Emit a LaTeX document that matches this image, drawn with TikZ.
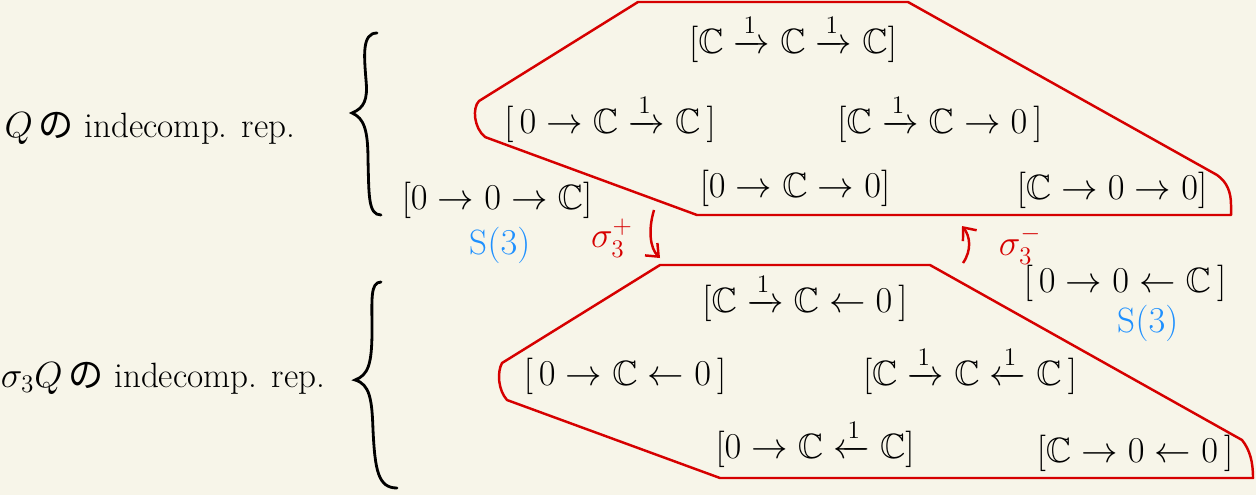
\documentclass[tikz,border=0pt]{standalone}
\usepackage{amsmath}
\usepackage{amssymb}
\usepackage{fontspec}
\newfontfamily\jpfont{Noto Sans CJK JP}
\usepackage{xcolor}
\definecolor{paper}{RGB}{247,245,233}
\definecolor{penred}{RGB}{214,0,0}
\definecolor{penblue}{RGB}{30,144,255}
\usetikzlibrary{arrows.meta}

\newcommand{\Cc}{\mathbb{C}}

\tikzset{
  rep/.style={font=\fontsize{20}{24}\selectfont, inner sep=1pt},
  lbl/.style={font=\fontsize{20}{24}\selectfont, inner sep=1pt},
  simple/.style={font=\fontsize{20}{24}\selectfont, text=penblue, inner sep=1pt},
  refl/.style={font=\fontsize{20}{24}\selectfont, text=penred, inner sep=1pt},
  hull/.style={penred, line width=1.4pt, line join=round},
  brace/.style={black, line width=1.6pt, line cap=round},
  move/.style={penred, line width=1.4pt, -{Straight Barb[length=6pt,width=10pt]}}
}

\begin{document}
\begin{tikzpicture}[x=0.02cm, y=-0.02cm]
  \fill[paper] (0,0) rectangle (1256,495);
  \useasboundingbox (0,0) rectangle (1256,495);

  % --- Top: Q ---
  \node[lbl] (qlabel) at (150,128) {$Q$\,{\jpfont の} indecomp. rep.};
  \draw[brace] (377,33) .. controls (362,33) and (364,55) .. (366,80)
    .. controls (368,100) and (364,108) .. (352,113)
    .. controls (364,118) and (368,130) .. (368,160)
    .. controls (369,195) and (368,215) .. (381,215);

  \draw[hull] (638,2) -- (908,2) -- (1217,175)
    .. controls (1227,182) and (1231,192) .. (1231,205) -- (1231,215)
    -- (697,215) -- (485,137)
    .. controls (474,128) and (472,108) .. (479,101) -- cycle;

  \node[rep] (ccc) at (793,38) {$[\Cc\xrightarrow{1}\Cc\xrightarrow{1}\Cc]$};
  \node[rep] (occ) at (610,118) {$[\,0\rightarrow\Cc\xrightarrow{1}\Cc\,]$};
  \node[rep] (cco) at (940,118) {$[\Cc\xrightarrow{1}\Cc\rightarrow 0\,]$};
  \node[rep] (ooc) at (497,200) {$[0\rightarrow 0\rightarrow\Cc]$};
  \node[simple] (sthree) at (500,245) {$\mathrm{S}(3)$};
  \node[rep] (oco) at (795,188) {$[0\rightarrow\Cc\rightarrow 0]$};
  \node[rep] (coo) at (1112,190) {$[\Cc\rightarrow 0\rightarrow 0]$};

  % --- reflection functors ---
  \node[refl] (splus) at (612,238) {$\sigma_3^{+}$};
  \node[refl] (sminus) at (1020,245) {$\sigma_3^{-}$};
  \coordinate (plusA) at (654,210);
  \coordinate (plusB) at (660,258);
  \coordinate (minusA) at (963,263);
  \coordinate (minusB) at (962,226);
  \draw[move] (plusA) .. controls (648,230) and (650,248) .. (plusB);
  \draw[move] (minusA) .. controls (972,250) and (970,236) .. (minusB);

  % --- Bottom: sigma_3 Q ---
  \node[lbl] (slabel) at (163,378) {$\sigma_3Q$\,{\jpfont の} indecomp. rep.};
  \draw[brace] (381,282) .. controls (370,282) and (372,300) .. (372,330)
    .. controls (372,365) and (368,375) .. (355,380)
    .. controls (370,384) and (372,400) .. (373,430)
    .. controls (375,470) and (378,488) .. (397,488);

  \draw[hull] (660,265) -- (930,265) -- (1242,440)
    .. controls (1250,450) and (1253,462) .. (1253,478)
    -- (720,478) -- (507,400)
    .. controls (498,390) and (497,372) .. (502,363) -- cycle;

  \node[rep] (cco2) at (805,297) {$[\Cc\xrightarrow{1}\Cc\leftarrow 0\,]$};
  \node[rep] (ooc2) at (1125,283) {$[\,0\rightarrow 0\leftarrow\Cc\,]$};
  \node[simple] (sthree2) at (1148,323) {$\mathrm{S}(3)$};
  \node[rep] (oco2) at (625,376) {$[\,0\rightarrow\Cc\leftarrow 0\,]$};
  \node[rep] (ccc2) at (970,370) {$[\Cc\xrightarrow{1}\Cc\xleftarrow{1}\Cc\,]$};
  \node[rep] (occ2) at (815,443) {$[0\rightarrow\Cc\xleftarrow{1}\Cc]$};
  \node[rep] (coo2) at (1135,453) {$[\Cc\rightarrow 0\leftarrow 0\,]$};
\end{tikzpicture}
\end{document}
